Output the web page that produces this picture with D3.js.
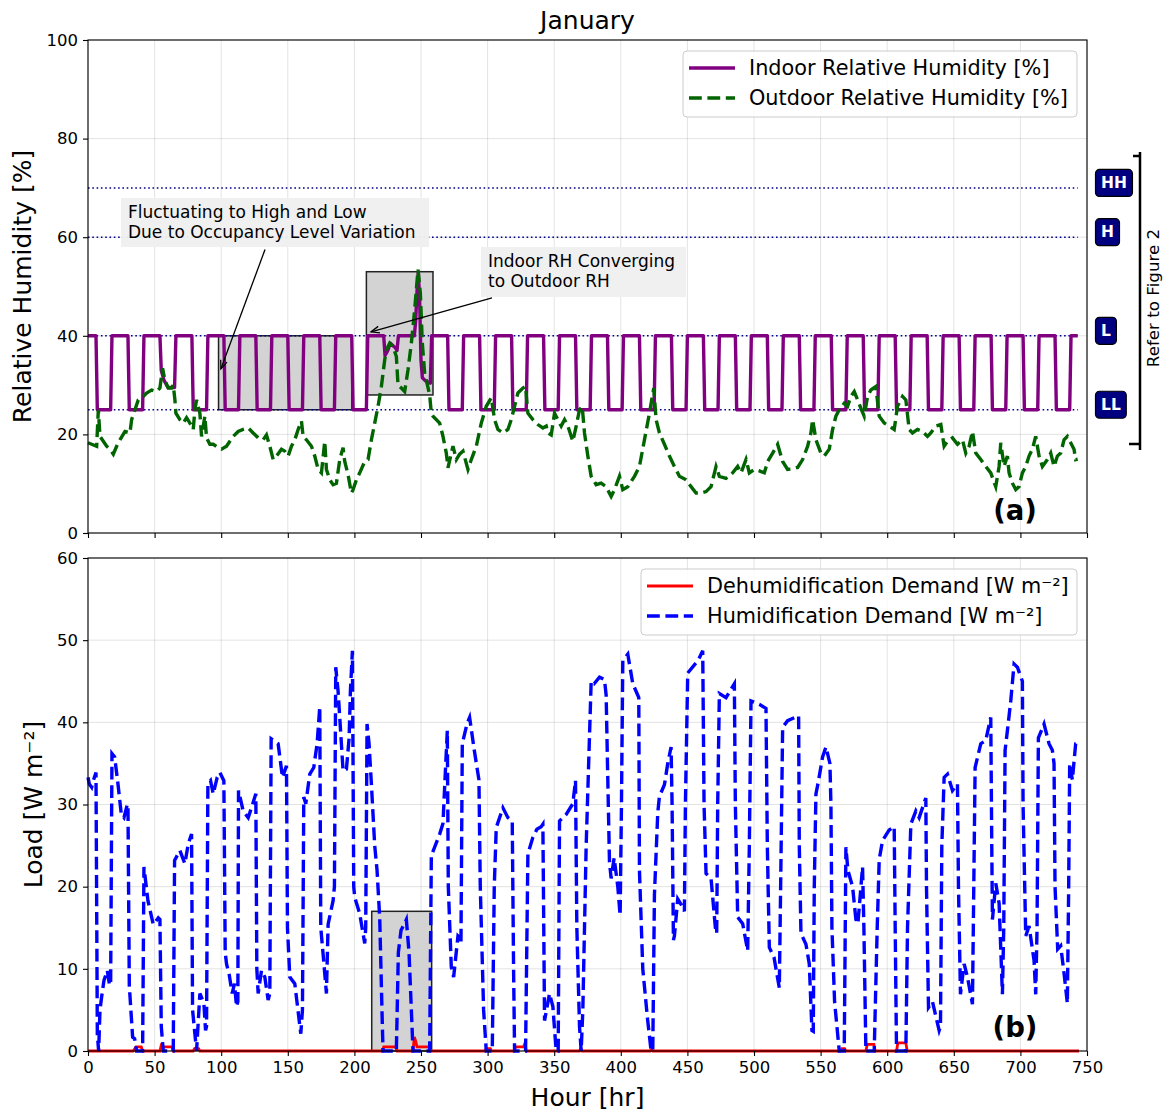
<!DOCTYPE html>
<html><head><meta charset="utf-8">
<script src="https://cdn.jsdelivr.net/npm/d3@7"></script>
<style>body{margin:0;background:#fff} text{font-family:"DejaVu Sans",sans-serif}</style>
</head><body><svg id="c" width="1170" height="1110"></svg>
<script>
// ---------- data ----------
const hourTicks = [0,50,100,150,200,250,300,350,400,450,500,550,600,650,700,750];
const rhTicks = [0,20,40,60,80,100];
const loadTicks = [0,10,20,30,40,50,60];
const thresholdValues = [70,60,40,25];
const thresholdLabels = ["HH","H","L","LL"];
const seriesNames = ["Indoor Relative Humidity [%]","Outdoor Relative Humidity [%]",
  "Dehumidification Demand [W m\u207B\u00B2]","Humidification Demand [W m\u207B\u00B2]"];

// indoor RH [hour, %]
const indoorRH = [[0,40],[6,40],[7,25],[17,25],[18,40],[30,40],[31,25],[41,25],[42,40],
[54,40],[55,33],[57,31],[60,29.5],[65,29.5],[66,40],[78,40],[79,25],[89,25],[90,40],
[102,40],[103,25],[113,25],[114,40],[126,40],[127,25],[137,25],[138,40],[150,40],[151,25],[161,25],[162,40],
[174,40],[175,25],[185,25],[186,40],[198,40],[199,25],[209,25],[210,40],
[222,40],[223,36],[225,37],[227,38.5],[229,38],[231,37.5],[232,37],[233,40],
[245,40],[246,43],[247,49],[248,53],[249,47],[250,35],[251,31.5],[254,30.7],[257,30.4],[258,40],
[270,40],[271,25],[281,25],[282,40],[294,40],[295,25],[305,25],[306,40],[318,40],[319,25],[329,25],[330,40],
[342,40],[343,25],[353,25],[354,40],[366,40],[367,25],[377,25],[378,40],[390,40],[391,25],[401,25],[402,40],
[414,40],[415,25],[425,25],[426,40],[438,40],[439,25],[449,25],[450,40],[462,40],[463,25],[473,25],[474,40],
[486,40],[487,25],[497,25],[498,40],[510,40],[511,25],[521,25],[522,40],[534,40],[535,25],[545,25],[546,40],
[558,40],[559,25],[569,25],[570,40],[582,40],[583,25],[593,25],[594,40],[606,40],[607,25],[617,25],[618,40],
[630,40],[631,25],[641,25],[642,40],[654,40],[655,25],[665,25],[666,40],[678,40],[679,25],[689,25],[690,40],
[702,40],[703,25],[713,25],[714,40],[726,40],[727,25],[737,25],[738,40],[743,40]];

// outdoor RH [hour, %]
const outdoorRH = [[0,18.3],[2.75,18],[6.5,17.6],[7.75,25],[9,19.6],[11.5,18.6],[14,17.6],[16.5,17],[19,16],[21.5,17.6],[24,18.9],[27.75,20.6],[31.5,20.3],[32.75,23],[35.25,25],[37.75,27],[41.5,27.7],[44,28.4],[47.75,29],[51.5,28.7],[54,29.4],[56,33.4],[57.75,31],[60.25,29.4],[62.75,29.4],[64,30],[65.25,27],[66,24.3],[69,23],[71.5,22.3],[74,23.4],[76.5,22.3],[79,21],[80.25,25],[81.5,27],[84,24.3],[85.25,19.6],[87.75,23.7],[89,19.3],[91.5,18],[94,18],[97.75,17.3],[100.25,17],[104,17.6],[106.5,18.6],[109,19.6],[112.75,20.6],[116.5,21],[120.25,21.3],[124,20.3],[127.75,19.3],[131.5,18.9],[134,19.9],[136.5,17.6],[139,14.9],[141.5,15.6],[145.25,17],[147.75,16.6],[150.25,15.6],[152.75,17.6],[155.25,18.9],[157.75,21],[160.25,22.7],[161.5,19.6],[164,18.9],[167.75,17.6],[170.25,15.6],[172.75,12.9],[175.25,12.2],[177.75,18.6],[179,12.9],[181.5,10.8],[184,9.8],[186.5,10.1],[189,14.9],[191.5,17.3],[192.75,14.5],[195.25,11.8],[197.75,8.1],[199,8.8],[201.5,10.8],[204,12.2],[207.75,14.5],[210.25,14.9],[212.75,18.9],[215.25,22.3],[217.75,25.7],[220.25,29.7],[222.75,35.1],[224,37.1],[226.5,38.5],[229,37.8],[231.5,35.8],[232.75,30],[235.25,29.4],[237.75,28.7],[240.25,33.1],[242.75,38.5],[245.25,45.3],[247.75,53.4],[249.5,48.7],[251,38.5],[252.75,32.4],[254,31],[256.5,28],[257.75,24.3],[259,23.7],[261.5,23],[264,22.3],[266.5,19.6],[269,16.2],[270.25,13.2],[272.75,16.2],[274,17.6],[276.5,14.9],[279,16],[281.5,16.6],[285.25,12.9],[287.75,14.9],[291.5,17.6],[295.25,22.3],[299,25.7],[302.75,27.4],[305.25,23],[307.75,21],[311.5,20.3],[315.25,21],[317.75,23],[320.25,25.7],[322.75,28.4],[326.5,29.4],[328.5,29.7],[330.25,24.3],[334,23],[337.75,22],[341.5,21.3],[344,21.7],[345.25,20.3],[347.75,19.9],[350.25,24.3],[352.75,23],[355.25,21.7],[357.75,23],[360.25,21.7],[364,18.6],[366.5,21.7],[369,25],[371,25.7],[372.75,20.3],[375.25,15.6],[377.75,11.5],[381.5,9.8],[385.25,10.1],[389,9.4],[392.75,7.4],[395.25,8.8],[399,11.5],[401.5,8.8],[405.25,9.4],[410.25,11.5],[414,13.5],[417.75,18.9],[421.5,24.3],[424.75,29.4],[426.5,23],[429,20.3],[432.75,18],[436.5,15.6],[440.25,13.5],[444,11.5],[449,10.8],[452.75,9.4],[456.5,8.1],[460.25,8.1],[464,8.4],[467.75,9.4],[471.5,13.5],[474,11.5],[479,11.1],[484,12.2],[487.75,13.5],[490.25,12.2],[494,14.9],[496.5,12.2],[500.25,12.9],[504,12.6],[507.75,12.2],[510.25,14.5],[514,16.2],[517.75,18],[521.5,14.5],[525.25,12.9],[529,13],[532.75,13.3],[536.5,14.9],[540.25,17.6],[542.75,20.3],[544,23],[546.5,18.9],[550.25,16.2],[552.75,15.6],[556.5,17],[559,21],[561.5,23.7],[564,25],[567.75,26.3],[570.25,25.7],[572.75,27.7],[575.25,28.7],[577.75,27],[580.25,25.3],[582.75,23.7],[585.25,27.7],[587.75,29],[591.5,29.7],[594,23.7],[597.75,22.3],[601.5,21.7],[605.25,21],[607.75,25.7],[611.5,27.7],[614,27],[616.5,21],[619,20.3],[622.75,21],[626.5,20.6],[630.25,19.6],[632.75,20.3],[636.5,21.7],[640.25,22],[642.75,17.6],[645.25,18.6],[649,19.3],[652.75,18],[656.5,18.9],[659,16.2],[661.5,17.6],[664,20.6],[666.5,16.2],[670.25,14.9],[674,13.5],[677.75,12.2],[681.5,9.4],[684,13.5],[685.25,18.3],[687.75,13.5],[690.25,15.6],[691.5,12.2],[694,10.1],[696.5,8.8],[699,9.4],[701.5,12.2],[704,13.5],[706.5,15.6],[709,17],[711.5,19.6],[714,15.6],[716.5,13.5],[720.25,14.9],[722.75,16.2],[725.25,13.5],[727.75,15.6],[730.25,16.2],[732.75,18.9],[735.25,19.6],[737.75,18.3],[740.25,17],[741.5,14.9],[743,15]];

// humidification demand [hour, W/m2]
const humidification = [[0,33.3],[1,32.5],[2.75,32.1],[4,32.9],[6,33.9],[7,2],[8,0],[9,5],[10.25,6.6],[12,8.6],[14.5,9.8],[16,8.2],[17,8],[18,36.2],[20,35.8],[22.5,32.5],[25,28.8],[27,28.4],[29.5,30],[30,30],[31,8],[33.5,1.7],[35,1.5],[36.5,0],[41,0],[42,22.4],[45,18.3],[49,15.4],[52.75,16.2],[54,16],[55,3],[56.5,0],[64,0],[65,23.2],[69,24.4],[72.75,22.8],[75.25,25.2],[77.75,26.4],[78.5,5],[81.5,0],[84,7],[87,5.8],[88.25,2.5],[89,3],[90,32.5],[92,32.9],[94,31.3],[97,33.3],[99,33.9],[102,32.9],[103,12],[104,10.6],[106,9.3],[108.25,7],[110,8.2],[111.5,5.4],[112.5,6],[113,31.7],[116.5,29.2],[120.25,28.4],[122.75,29.6],[126,31.3],[126.75,10],[127.75,7],[130.25,9.8],[132.75,9],[135.25,6.2],[136.5,7],[137.5,38],[142.75,37.4],[146,33.3],[149,34.7],[149.75,15],[151.5,9],[155.25,8.2],[159.75,2.1],[161,5],[162,30.9],[163.5,30.1],[166.5,33.7],[169.5,34.5],[172,37.4],[174,41.9],[174.75,15],[176.5,11.8],[179,7],[180.25,15.4],[184,18.3],[185,20],[186,46.7],[187.75,43.8],[189,40.6],[191.5,34.1],[194,34.3],[196,38],[197,43.8],[198.5,48.7],[199.5,20],[200.25,18.7],[204,16.7],[207.75,13.1],[208.5,15],[209.5,39.8],[211,37.4],[212.75,32.5],[215.25,25],[217,22],[219,16.2],[221,3],[221.5,0],[231.5,0],[233,12],[235,14.7],[237,15.3],[239,16],[241,12],[243,4],[244,0],[256.5,0],[257.75,23.8],[260.25,24.8],[264,26.4],[266.5,27.7],[268,33],[269.75,39],[270.5,20],[272.75,10.2],[274.5,9],[277.75,14],[279,13.8],[280,13],[281,37.4],[284.5,39.8],[286.5,40.6],[290,36.6],[293.5,33],[294.5,20],[297,5],[299,0],[303.5,0],[305,20],[306.5,27.2],[311.5,29.6],[315.25,28.4],[318.5,28],[319.5,10],[320.25,0],[328.5,0],[330.25,24],[334,26],[337,27],[340.25,27.3],[341.5,27.6],[342.75,3.7],[346.5,7],[349,5.4],[351.5,0],[353,0],[354,28],[359,28.8],[364,30.1],[366,32.9],[367,15],[369,3],[370.25,0],[371.5,5],[374,25],[377.75,45],[380,44.7],[384,45.5],[387.75,45.2],[389,43.3],[390,35],[391.5,23],[392.75,21],[395,23.5],[397.75,20],[399.5,16.5],[400.5,30],[401.5,47.5],[405.25,48.3],[409,44.7],[412.75,43.3],[413.5,43],[414,22],[416.5,10],[420,4],[422.75,0],[424,0],[425.25,19],[427.75,29],[429,31],[432.75,32.4],[435.25,35],[437.75,37],[438.5,30],[439.5,13.5],[440.25,14],[442.75,18.5],[446.5,17.5],[447.75,17],[448.5,30],[450.25,46],[455.25,47],[458,47.5],[461.5,48.7],[462.5,30],[464,21.6],[467.75,21],[471,15],[472,14.3],[472.75,30],[474,43.5],[479,43],[485.25,44.7],[486,30],[487.75,16.3],[491.5,15.5],[495.25,12.2],[496.5,25],[497.75,42.6],[504,42.2],[509,41.7],[510,25],[511.5,12.6],[515,11.4],[519,7.7],[520,20],[521.5,39.4],[525.25,40.2],[533.5,40.8],[534,25],[535.25,14.3],[539,13],[541.5,10.6],[543.5,2.5],[544.5,2.4],[545.25,20],[546.5,31.3],[548,32.5],[551.5,35.8],[554,37],[557,35],[557.75,30],[558.5,15],[560.5,6],[564,0],[567.75,0],[569,24.8],[570.5,22],[574,20],[576.5,16],[578,15.5],[581.5,22.4],[582.5,15],[584,0],[590.25,0],[592.5,15],[594,23.3],[596.5,25.6],[601.5,26.9],[605.25,27.3],[606,15],[607,0],[614,0],[615.25,15],[617.75,27.6],[621.5,29.2],[624,28.4],[629,30.8],[629.5,20],[631,5.3],[634,6],[639,2.5],[640,3],[641,25],[642.75,33.3],[645.25,33.7],[649,31.7],[652.75,32.5],[653.5,20],[655,6.9],[657.75,10.6],[660.25,9],[664,5.7],[665,20],[666,34.5],[670.25,37.4],[674,37.8],[677.75,40.6],[678.5,25],[679,16],[681.5,20.4],[684,18],[686.5,6.9],[687.5,15],[688.5,36.6],[690.25,39],[692.75,42.6],[695.25,47.1],[697.75,46.7],[701.5,45],[702,30],[704,14],[706.5,15.2],[710.25,11],[711.5,6.9],[712.5,15],[713.5,38.1],[717.75,39.8],[721.5,37.4],[724,36.6],[725.25,35],[726,20],[728,12.4],[730.25,12.8],[732.75,9.5],[735.25,5.8],[736.25,20],[737,35],[739,33],[741.5,37.4],[743,37.5]];

// dehumidification demand [hour, W/m2]
const dehumidification = [[0,0],[34,0],[36,0.5],[40,0.5],[41,0],[54,0],[55,0.7],[57,0.5],[63,0.5],[64,0],[79,0],[80,0.3],[83,0.3],[84,0],[221,0],[222,0.5],[231,0.5],[232,0],[244,0],[245,1.7],[246,1.2],[247,0.5],[256,0.5],[257,0],[298,0],[299,0.3],[302,0.3],[303,0],[320,0],[321,0.5],[327,0.5],[328,0.9],[329,0],[369,0],[370,0.3],[371,0],[422,0],[423,0.2],[424,0],[565,0],[566,0.3],[568,0.3],[569,0],[584,0],[585,0.8],[590,0.8],[591,0],[607,0],[608,1],[614,1],[615,0],[744,0]];

// highlighted regions [hourStart, hourEnd, yLow, yHigh]
const highlightTop = [[98,198,25,40],[209,259,28,53]];
const highlightBottom = [[213,258,0,17]];

// ---------- drawing ----------
const svg = d3.select("#c");
const X0 = 88, X1 = 1087;
const x = d3.scaleLinear().domain([0,750]).range([X0,X1]);
const yT = d3.scaleLinear().domain([0,100]).range([533,40]);
const yB = d3.scaleLinear().domain([0,60]).range([1051,558]);
const FONT = '"DejaVu Sans", sans-serif';

function panel(y, yTicks){
  const g = svg.append("g");
  const [yb, yt] = y.range();
  g.selectAll(".vg").data(hourTicks).enter().append("line")
    .attr("x1", d=>x(d)).attr("x2", d=>x(d)).attr("y1", yt).attr("y2", yb)
    .attr("stroke", "#b0b0b0").attr("stroke-opacity", 0.35).attr("stroke-width", 1);
  g.selectAll(".hg").data(yTicks).enter().append("line")
    .attr("x1", X0).attr("x2", X1).attr("y1", d=>y(d)).attr("y2", d=>y(d))
    .attr("stroke", "#b0b0b0").attr("stroke-opacity", 0.35).attr("stroke-width", 1);
  return g;
}
function axes(y, yTicks, showXLabels){
  const [yb, yt] = y.range();
  const ax = d3.axisLeft(y).tickValues(yTicks).tickSize(5).tickPadding(5).tickSizeOuter(0);
  const ga = svg.append("g").attr("transform", `translate(${X0},0)`).call(ax);
  const bx = d3.axisBottom(x).tickValues(hourTicks).tickSize(5).tickPadding(5).tickSizeOuter(0);
  if (!showXLabels) bx.tickFormat("");
  const gb = svg.append("g").attr("transform", `translate(0,${yb})`).call(bx);
  [ga, gb].forEach(g => {
    g.select(".domain").remove();
    g.selectAll("line").attr("stroke", "#000").attr("stroke-width", 1.1);
    g.selectAll("text").attr("font-family", FONT).attr("font-size", 16.5).attr("fill", "#000");
  });
  svg.append("rect").attr("x", X0).attr("y", yt).attr("width", X1 - X0).attr("height", yb - yt)
    .attr("fill", "none").attr("stroke", "#000").attr("stroke-width", 1.1);
}

// ---- top panel ----
panel(yT, rhTicks);
svg.selectAll(".hlT").data(highlightTop).enter().append("rect")
  .attr("x", d=>x(d[0])).attr("width", d=>x(d[1])-x(d[0]))
  .attr("y", d=>yT(d[3])).attr("height", d=>yT(d[2])-yT(d[3]))
  .attr("fill", "#d3d3d3").attr("stroke", "#222").attr("stroke-width", 1.5);

svg.selectAll(".thr").data(thresholdValues).enter().append("line")
  .attr("x1", x(0)).attr("x2", x(743)).attr("y1", d=>yT(d)).attr("y2", d=>yT(d))
  .attr("stroke", "#00008b").attr("stroke-width", 1.5).attr("stroke-dasharray", "1.6,2.7");

const lineT = d3.line().x(d=>x(d[0])).y(d=>yT(d[1]));
const lineB = d3.line().x(d=>x(d[0])).y(d=>yB(d[1]));
svg.append("path").datum(indoorRH).attr("d", lineT).attr("fill","none")
  .attr("stroke","#800080").attr("stroke-width",3.4).attr("stroke-linejoin","round");
svg.append("path").datum(outdoorRH).attr("d", lineT).attr("fill","none")
  .attr("stroke","#006400").attr("stroke-width",3.4).attr("stroke-dasharray","12.8,5.6");
axes(yT, rhTicks, false);

// ---- bottom panel ----
panel(yB, loadTicks);
svg.selectAll(".hlB").data(highlightBottom).enter().append("rect")
  .attr("x", d=>x(d[0])).attr("width", d=>x(d[1])-x(d[0]))
  .attr("y", d=>yB(d[3])).attr("height", d=>yB(d[2])-yB(d[3]))
  .attr("fill", "#d3d3d3").attr("stroke", "#222").attr("stroke-width", 1.5);
svg.append("path").datum(dehumidification).attr("d", lineB).attr("fill","none")
  .attr("stroke","#ff0000").attr("stroke-width",2.8);
svg.append("path").datum(humidification).attr("d", lineB).attr("fill","none")
  .attr("stroke","#0000ff").attr("stroke-width",3.4).attr("stroke-dasharray","12.8,5.6");
axes(yB, loadTicks, true);

// ---- labels ----
svg.append("text").attr("x", (X0+X1)/2).attr("y", 29).attr("text-anchor","middle")
  .attr("font-size", 25).text("January");
svg.append("text").attr("transform", `translate(22,${(40+533)/2}) rotate(-90)`)
  .attr("text-anchor","middle").attr("dominant-baseline","central").attr("font-size", 25)
  .text("Relative Humidity [%]");
svg.append("text").attr("transform", `translate(33,${(558+1051)/2}) rotate(-90)`)
  .attr("text-anchor","middle").attr("dominant-baseline","central").attr("font-size", 25)
  .text("Load [W m\u207B\u00B2]");
svg.append("text").attr("x", (X0+X1)/2).attr("y", 1097).attr("text-anchor","middle")
  .attr("dominant-baseline","central").attr("font-size", 25).text("Hour [hr]");
svg.append("text").attr("x", 1015).attr("y", 510).attr("text-anchor","middle")
  .attr("dominant-baseline","central").attr("font-size", 27.5).attr("font-weight","bold").text("(a)");
svg.append("text").attr("x", 1015).attr("y", 1027).attr("text-anchor","middle")
  .attr("dominant-baseline","central").attr("font-size", 27.5).attr("font-weight","bold").text("(b)");

// ---- legends ----
function legend(x0, y0, w, entries){
  const g = svg.append("g");
  g.append("rect").attr("x", x0).attr("y", y0).attr("width", w).attr("height", 66).attr("rx", 4)
    .attr("fill","#fff").attr("fill-opacity",0.85).attr("stroke","#cccccc").attr("stroke-width",1);
  entries.forEach((e,i)=>{
    const yy = y0 + 17 + i*30;
    g.append("line").attr("x1", x0+6).attr("x2", x0+52).attr("y1", yy).attr("y2", yy)
      .attr("stroke", e.color).attr("stroke-width", e.w).attr("stroke-dasharray", e.dash || null);
    g.append("text").attr("x", x0+66).attr("y", yy).attr("dominant-baseline","central")
      .attr("font-size", 20.8).text(e.name);
  });
}
legend(683, 51, 394, [
  {name: seriesNames[0], color:"#800080", w:3.4},
  {name: seriesNames[1], color:"#006400", w:3.4, dash:"12.8,5.6"}]);
legend(641, 569, 436, [
  {name: seriesNames[2], color:"#ff0000", w:2.8},
  {name: seriesNames[3], color:"#0000ff", w:3.4, dash:"12.8,5.6"}]);

// ---- annotations ----
const notes = [
  {lines:["Fluctuating to High and Low","Due to Occupancy Level Variation"], bx:121, by:198, bw:308, bh:49,
   from:[132.9,57.5], to:[99.8,33.3]},
  {lines:["Indoor RH Converging","to Outdoor RH"], bx:481, by:247, bw:205, bh:50,
   from:[303.3,47.7], to:[212.5,40.8]}
];
notes.forEach(n=>{
  svg.append("rect").attr("x", n.bx).attr("y", n.by).attr("width", n.bw).attr("height", n.bh)
    .attr("fill","#efefef").attr("fill-opacity",0.95);
  n.lines.forEach((t,i)=>{
    svg.append("text").attr("x", n.bx+7).attr("y", n.by+14+i*19.5).attr("dominant-baseline","central")
      .attr("font-size", 17).text(t);
  });
  const x1 = x(n.from[0]), y1 = yT(n.from[1]), x2 = x(n.to[0]), y2 = yT(n.to[1]);
  svg.append("line").attr("x1",x1).attr("y1",y1).attr("x2",x2).attr("y2",y2)
    .attr("stroke","#000").attr("stroke-width",1.3);
  const ang = Math.atan2(y2-y1, x2-x1), L = 9, a = 0.38;
  svg.append("path").attr("d",
    `M${x2-L*Math.cos(ang-a)},${y2-L*Math.sin(ang-a)} L${x2},${y2} L${x2-L*Math.cos(ang+a)},${y2-L*Math.sin(ang+a)}`)
    .attr("fill","none").attr("stroke","#000").attr("stroke-width",1.3);
});

// ---- threshold labels and bracket ----
thresholdValues.forEach((v,i)=>{
  const t = thresholdLabels[i];
  const g = svg.append("g");
  const txt = g.append("text").attr("x", 1101).attr("y", yT(v)-5).attr("dominant-baseline","central")
    .attr("font-size", 15.5).attr("font-weight","bold").attr("fill","#fff").text(t);
  const w = txt.node().getComputedTextLength();
  g.insert("rect","text").attr("x", 1095.5).attr("y", yT(v)-5-13.5).attr("width", w+11).attr("height", 27)
    .attr("rx", 4).attr("fill","#000080").attr("stroke","#000").attr("stroke-width",1.2);
});
svg.append("path").attr("d","M1133,156 H1140 M1140,152 V450 M1129,444 H1140")
  .attr("fill","none").attr("stroke","#000").attr("stroke-width",2.5);
svg.append("text").attr("transform","translate(1153,298) rotate(-90)").attr("text-anchor","middle")
  .attr("dominant-baseline","central").attr("font-size",16.7).text("Refer to Figure 2");
</script></body></html>
